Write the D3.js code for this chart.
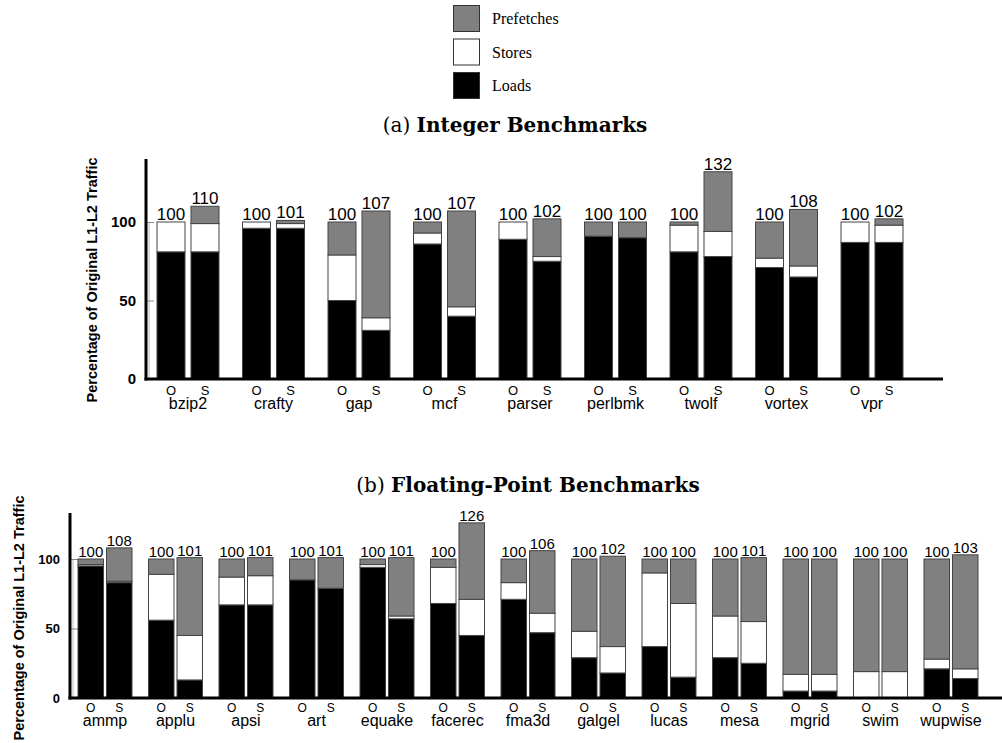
<!DOCTYPE html>
<html>
<head>
<meta charset="utf-8">
<script src="https://cdn.jsdelivr.net/npm/d3@7"></script>
<style>
  body { margin: 0; background: #fff; }
  svg { display: block; }
  text { font-family: "Liberation Sans", Arial, sans-serif; }
</style>
</head>
<body>
<svg id="chart" width="1002" height="743"></svg>
<script>
// ---- data ----
const seriesKeys = ["loads", "stores", "prefetches"];
const seriesNames = ["Loads", "Stores", "Prefetches"];
const seriesColors = ["#000000", "#ffffff", "#808080"];
const variants = ["O", "S"];

const intBench = ["bzip2", "crafty", "gap", "mcf", "parser", "perlbmk", "twolf", "vortex", "vpr"];
// O then S per benchmark
const intLoads  = [81, 81, 96, 96, 50, 31, 86, 40, 89, 75, 91, 90, 81, 78, 71, 65, 87, 87];
const intStores = [19, 18, 4, 3, 29, 8, 7, 6, 11, 3, 0, 0, 17, 16, 6, 7, 13, 11];
const intPref   = [0, 11, 0, 2, 21, 68, 7, 61, 0, 24, 9, 10, 2, 38, 23, 36, 0, 4];
const intTotals = [100, 110, 100, 101, 100, 107, 100, 107, 100, 102, 100, 100, 100, 132, 100, 108, 100, 102];

const fpBench = ["ammp", "applu", "apsi", "art", "equake", "facerec", "fma3d", "galgel", "lucas", "mesa", "mgrid", "swim", "wupwise"];
const fpLoads  = [95, 83, 56, 13, 67, 67, 85, 79, 94, 57, 68, 45, 71, 47, 29, 18, 37, 15, 29, 25, 5, 5, 0, 0, 21, 14];
const fpStores = [1, 1, 33, 32, 20, 21, 0, 0, 2, 2, 26, 26, 12, 14, 19, 19, 53, 53, 30, 30, 12, 12, 19, 19, 7, 7];
const fpPref   = [4, 24, 11, 56, 13, 13, 15, 22, 4, 42, 6, 55, 17, 45, 52, 65, 10, 32, 41, 46, 83, 83, 81, 81, 72, 82];
const fpTotals = [100, 108, 100, 101, 100, 101, 100, 101, 100, 101, 100, 126, 100, 106, 100, 102, 100, 100, 100, 101, 100, 100, 100, 100, 100, 103];

const yTicks = [0, 50, 100];

function buildRows(bench, loads, stores, pref, totals) {
    let rows = [];
    bench.forEach((b, i) => {
        variants.forEach((v, j) => {
            const k = i * 2 + j;
            rows.push({ bench: b, variant: v, loads: loads[k], stores: stores[k], prefetches: pref[k], total: totals[k] });
        });
    });
    return rows;
}

const svg = d3.select("#chart");

// ---- legend ----
const legend = svg.append("g");
[2, 1, 0].forEach((s, i) => {
    legend.append("rect")
        .attr("x", 453.5).attr("y", 5.5 + i * 33.5)
        .attr("width", 26).attr("height", 26)
        .attr("fill", seriesColors[s])
        .attr("stroke", "#333").attr("stroke-width", 1);
    legend.append("text")
        .attr("x", 492).attr("y", 18.5 + i * 33.5)
        .attr("dy", "0.35em")
        .style("font-family", "'Liberation Serif', 'Times New Roman', serif")
        .style("font-size", "16px")
        .text(seriesNames[s]);
});

function drawTitle(letter, label, cx, y) {
    const t = svg.append("text")
        .attr("x", cx).attr("y", y)
        .attr("text-anchor", "middle")
        .style("font-family", "'DejaVu Serif', 'Liberation Serif', serif")
        .style("font-size", "20px");
    t.append("tspan").text("(" + letter + ") ");
    t.append("tspan").style("font-weight", "bold").text(label);
}

function drawPanel(rows, bench, cfg) {
    const g = svg.append("g");

    const x0 = d3.scaleBand()
        .domain(bench)
        .range([cfg.left, cfg.right])
        .paddingInner(cfg.groupPad)
        .paddingOuter(0);
    const x1 = d3.scaleBand()
        .domain(variants)
        .range([0, x0.bandwidth()])
        .paddingInner(cfg.barPad)
        .paddingOuter(0);
    const y = d3.scaleLinear()
        .domain([0, 100])
        .range([cfg.y0, cfg.y100]);

    const stacked = d3.stack().keys(seriesKeys)(rows);

    // faint frame line next to axis
    g.append("line")
        .attr("x1", cfg.axisX + 3).attr("x2", cfg.axisX + 3)
        .attr("y1", y(100)).attr("y2", y(0))
        .attr("stroke", "#bbb").attr("stroke-width", 1);

    // ticks
    const axis = d3.axisRight(y).tickValues(yTicks).tickSize(8).tickFormat("");
    const ag = g.append("g")
        .attr("transform", `translate(${cfg.axisX},0)`)
        .call(axis);
    ag.select(".domain").remove();
    ag.selectAll(".tick line").attr("stroke", "#888");

    // tick labels
    g.selectAll(".ylab")
        .data(yTicks)
        .enter().append("text")
        .attr("x", cfg.axisX - 10)
        .attr("y", d => y(d))
        .attr("dy", "0.35em")
        .attr("text-anchor", "end")
        .style("font-weight", "bold")
        .style("font-size", cfg.tickFont + "px")
        .text(d => d);

    // bars
    stacked.forEach((layer, s) => {
        g.selectAll(".seg" + s)
            .data(layer)
            .enter().append("rect")
            .attr("x", d => x0(d.data.bench) + x1(d.data.variant))
            .attr("y", d => y(d[1]))
            .attr("width", x1.bandwidth())
            .attr("height", d => y(d[0]) - y(d[1]))
            .attr("fill", seriesColors[s])
            .attr("stroke", d => (d[1] - d[0]) > 0 ? "#444" : "none")
            .attr("stroke-width", 1);
    });

    // total labels
    g.selectAll(".tot")
        .data(rows)
        .enter().append("text")
        .attr("x", d => x0(d.bench) + x1(d.variant) + x1.bandwidth() / 2)
        .attr("y", d => y(d.total) - 2)
        .attr("text-anchor", "middle")
        .style("font-size", cfg.valFont + "px")
        .text(d => d.total);

    // axes lines
    g.append("line")
        .attr("x1", cfg.axisX).attr("x2", cfg.axisX)
        .attr("y1", cfg.axisTop).attr("y2", cfg.y0 + 1.5)
        .attr("stroke", "#000").attr("stroke-width", 3);
    g.append("line")
        .attr("x1", cfg.axisX - 1.5).attr("x2", cfg.axisEnd)
        .attr("y1", cfg.y0).attr("y2", cfg.y0)
        .attr("stroke", "#000").attr("stroke-width", 3);

    // O / S labels
    g.selectAll(".var")
        .data(rows)
        .enter().append("text")
        .attr("x", d => x0(d.bench) + x1(d.variant) + x1.bandwidth() / 2)
        .attr("y", cfg.varY)
        .attr("text-anchor", "middle")
        .style("font-size", cfg.varFont + "px")
        .text(d => d.variant);

    // benchmark names
    g.selectAll(".name")
        .data(bench)
        .enter().append("text")
        .attr("x", d => x0(d) + x0.bandwidth() / 2)
        .attr("y", cfg.nameY)
        .attr("text-anchor", "middle")
        .style("font-size", cfg.nameFont + "px")
        .text(d => d);

    // y title
    g.append("text")
        .attr("transform", `translate(${cfg.titleX},${cfg.titleY}) rotate(-90)`)
        .attr("text-anchor", "middle")
        .style("font-weight", "bold")
        .style("font-size", "14.5px")
        .text("Percentage of Original L1-L2 Traffic");
}

drawTitle("a", "Integer Benchmarks", 515, 132);
drawPanel(buildRows(intBench, intLoads, intStores, intPref, intTotals), intBench, {
    left: 157, right: 903, groupPad: 0.275, barPad: 0.176,
    y0: 379, y100: 222, axisX: 146, axisTop: 159, axisEnd: 943,
    tickFont: 15, valFont: 17, varFont: 13, nameFont: 16,
    varY: 395, nameY: 409, titleX: 97, titleY: 280
});

drawTitle("b", "Floating-Point Benchmarks", 528, 492);
drawPanel(buildRows(fpBench, fpLoads, fpStores, fpPref, fpTotals), fpBench, {
    left: 78, right: 978, groupPad: 0.234, barPad: 0.105,
    y0: 698, y100: 559, axisX: 70, axisTop: 513, axisEnd: 1002,
    tickFont: 13, valFont: 15, varFont: 12, nameFont: 16,
    varY: 712, nameY: 726, titleX: 24, titleY: 618
});
</script>
</body>
</html>
